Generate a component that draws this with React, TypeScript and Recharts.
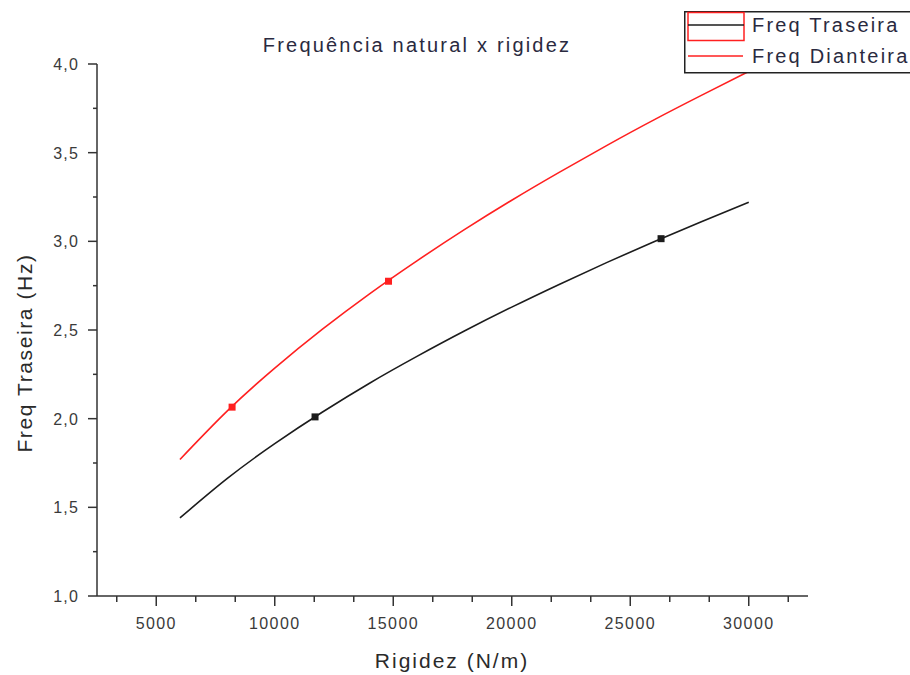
import { ComposedChart, Line, Scatter, XAxis, YAxis, Legend } from "recharts";

// Rigidez (N/m)
const rigidez = [6000, 8000, 10000, 12000, 14000, 16000, 18000, 20000, 22000, 24000, 26000, 28000, 30000];
const freqTraseira = [1.44, 1.663, 1.859, 2.036, 2.2, 2.351, 2.494, 2.629, 2.757, 2.88, 2.998, 3.111, 3.22];
const freqDianteira = [1.77, 2.044, 2.285, 2.503, 2.704, 2.89, 3.066, 3.232, 3.389, 3.54, 3.685, 3.823, 3.958];

// square markers sitting on the curves
const traseiraMarkX = [11700, 26300];
const traseiraMarkY = [2.01, 3.015];
const dianteiraMarkX = [8200, 14800];
const dianteiraMarkY = [2.065, 2.775];

const RED = "#ff2020";
const BLACK = "#1c1c1c";
const AXIS = "#333";
const FONT = "'Liberation Sans', Arial, sans-serif";

const data = rigidez.map((x, i) => ({ x, traseira: freqTraseira[i], dianteira: freqDianteira[i] }));
const traseiraMarks = traseiraMarkX.map((x, i) => ({ x, y: traseiraMarkY[i] }));
const dianteiraMarks = dianteiraMarkX.map((x, i) => ({ x, y: dianteiraMarkY[i] }));

const xStep = 5000 / 3;
const xTicks: number[] = [];
for (let v = 5000 - xStep; v < 32000; v += xStep) xTicks.push(v);
const yTicks: number[] = [];
for (let v = 1; v <= 4.001; v += 0.25) yTicks.push(Math.round(v * 100) / 100);

const isMajor = (v: number, step: number) => Math.abs(v / step - Math.round(v / step)) < 1e-6;

function XTick(props: any) {
  const { x, y, payload } = props;
  const major = isMajor(payload.value, 5000);
  return (
    <g>
      <line x1={x} x2={x} y1={y} y2={y + (major ? 10 : 6)} stroke={AXIS} strokeWidth={1.5} />
      {major && (
        <text x={x} y={y + 33} textAnchor="middle" fontSize={16} letterSpacing={1.4} fill="#3a3a3a" fontFamily={FONT}>
          {Math.round(payload.value)}
        </text>
      )}
    </g>
  );
}

function YTick(props: any) {
  const { x, y, payload } = props;
  const major = isMajor(payload.value, 0.5);
  return (
    <g>
      <line x1={x - (major ? 9 : 4)} x2={x} y1={y} y2={y} stroke={AXIS} strokeWidth={1.5} />
      {major && (
        <text x={x - 18} y={y + 6} textAnchor="end" fontSize={16} letterSpacing={1.2} fill="#3a3a3a" fontFamily={FONT}>
          {payload.value.toFixed(1).replace(".", ",")}
        </text>
      )}
    </g>
  );
}

const square = (color: string) => (props: any) => (
  <rect x={props.cx - 3.5} y={props.cy - 3.5} width={7} height={7} fill={color} />
);

function LegendBox() {
  return (
    <svg width={240} height={64} style={{ display: "block" }}>
      <rect x={0.75} y={0.75} width={238} height={61} fill="#fff" stroke="#222" strokeWidth={1.5} />
      <rect x={4} y={1.5} width={56} height={28} fill="none" stroke={RED} strokeWidth={1.5} />
      <line x1={4} x2={60} y1={14} y2={14} stroke={BLACK} strokeWidth={1.5} />
      <text x={68} y={21} fontSize={20} letterSpacing={2.2} fill="#2a2a40" fontFamily={FONT}>
        Freq Traseira
      </text>
      <line x1={4} x2={59} y1={45} y2={45} stroke={RED} strokeWidth={1.5} />
      <text x={68} y={52} fontSize={20} letterSpacing={2.2} fill="#2a2a40" fontFamily={FONT}>
        Freq Dianteira
      </text>
    </svg>
  );
}

export default function App() {
  return (
    <div style={{ position: "absolute", left: 0, top: 0, width: 910, height: 675, overflow: "hidden", background: "#fff" }}>
      <ComposedChart width={910} height={675} data={data} margin={{ top: 64, right: 102, bottom: 0, left: 0 }}>
        <XAxis
          dataKey="x"
          type="number"
          domain={[2500, 32500]}
          ticks={xTicks}
          interval={0}
          tick={<XTick />}
          tickLine={false}
          tickSize={0}
          tickMargin={0}
          height={79}
          axisLine={{ stroke: AXIS, strokeWidth: 1.5 }}
          allowDataOverflow
        />
        <YAxis
          type="number"
          domain={[1, 4]}
          ticks={yTicks}
          interval={0}
          tick={<YTick />}
          tickLine={false}
          tickSize={0}
          tickMargin={0}
          width={97}
          axisLine={{ stroke: AXIS, strokeWidth: 1.5 }}
          allowDataOverflow
        />
        <Line dataKey="traseira" type="natural" stroke={BLACK} strokeWidth={1.6} dot={false} activeDot={false} isAnimationActive={false} />
        <Line dataKey="dianteira" type="natural" stroke={RED} strokeWidth={1.6} dot={false} activeDot={false} isAnimationActive={false} />
        <Scatter data={traseiraMarks} dataKey="y" shape={square(BLACK)} isAnimationActive={false} />
        <Scatter data={dianteiraMarks} dataKey="y" shape={square(RED)} isAnimationActive={false} />
        <Legend
          layout="horizontal"
          verticalAlign="middle"
          align="center"
          content={() => <LegendBox />}
          wrapperStyle={{ left: 684, top: 11, width: 240, height: 64 }}
        />
        <text x={417} y={52} textAnchor="middle" fontSize={20} letterSpacing={2.2} fill="#2a2a40" fontFamily={FONT}>
          Frequência natural x rigidez
        </text>
        <text x={452} y={668} textAnchor="middle" fontSize={21} letterSpacing={2} fill="#2a2a2a" fontFamily={FONT}>
          Rigidez (N/m)
        </text>
        <text
          x={24}
          y={353}
          textAnchor="middle"
          dominantBaseline="central"
          transform="rotate(-90, 24, 353)"
          fontSize={21}
          letterSpacing={1.6}
          fill="#2a2a2a"
          fontFamily={FONT}
        >
          Freq Traseira (Hz)
        </text>
      </ComposedChart>
    </div>
  );
}
